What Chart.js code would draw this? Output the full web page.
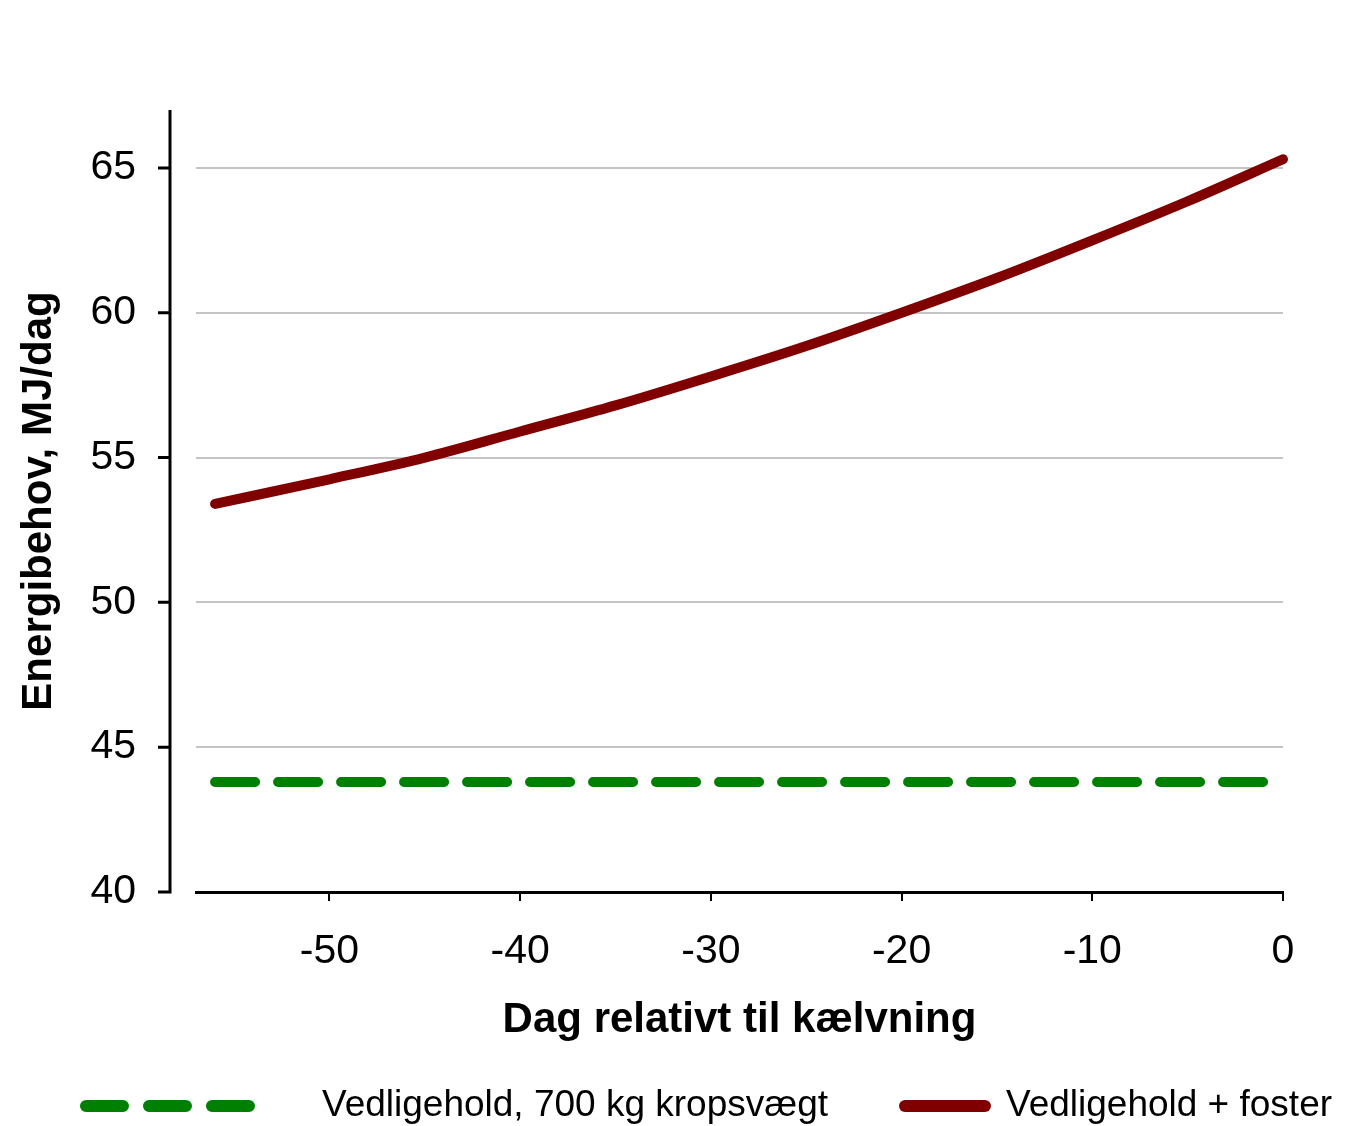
<!DOCTYPE html>
<html>
<head>
<meta charset="utf-8">
<title>Energibehov</title>
<script src="https://cdn.jsdelivr.net/npm/chart.js@4.4.1/dist/chart.umd.min.js"></script>
<style>
  html, body { margin: 0; padding: 0; background: #fff; }
  #wrap { width: 1360px; height: 1126px; position: relative; }
</style>
</head>
<body>
<div id="wrap"><canvas id="energyChart"></canvas></div>
<script>
// data
const fosterDays = [-56, -50, -45, -40, -35, -30, -25, -20, -15, -10, -5, 0];
const fosterValues = [53.4, 54.25, 55.0, 55.9, 56.8, 57.8, 58.85, 60.0, 61.2, 62.5, 63.85, 65.3];
const maintDays = [-56, 0];
const maintValues = [43.8, 43.8];
const yTickValues = [40, 45, 50, 55, 60, 65];
const seriesLabels = ['Vedligehold, 700 kg kropsvægt', 'Vedligehold + foster'];
const xTitle = 'Dag relativt til kælvning';
const yTitle = 'Energibehov, MJ/dag';

const GREEN = '#008000';
const RED = '#800000';
const FONT = '"Liberation Sans", Arial, sans-serif';

// y axis line sits a bit left of the plot, like in Excel
const detachedYAxis = {
    id: 'detachedYAxis',
    afterDraw(chart) {
        const { ctx, chartArea, scales } = chart;
        const y = scales.y;
        const x0 = chartArea.left - 26;
        ctx.save();
        ctx.strokeStyle = '#000';
        ctx.lineWidth = 3;
        ctx.beginPath();
        ctx.moveTo(x0, chartArea.top);
        ctx.lineTo(x0, chartArea.bottom + 1.5);
        y.ticks.forEach(t => {
            const py = y.getPixelForValue(t.value);
            ctx.moveTo(x0 - 12, py);
            ctx.lineTo(x0 + 1.5, py);
        });
        ctx.stroke();
        ctx.restore();
    }
};

// legend at the bottom, Excel style (different sample lengths)
const bottomLegend = {
    id: 'bottomLegend',
    afterDraw(chart) {
        const { ctx } = chart;
        const ly = 1106;
        ctx.save();
        ctx.lineCap = 'round';
        ctx.lineWidth = 12;

        ctx.strokeStyle = GREEN;
        ctx.setLineDash([37, 26]);
        ctx.beginPath();
        ctx.moveTo(86, ly);
        ctx.lineTo(249, ly);
        ctx.stroke();

        ctx.setLineDash([]);
        ctx.strokeStyle = RED;
        ctx.beginPath();
        ctx.moveTo(905, ly);
        ctx.lineTo(985, ly);
        ctx.stroke();

        ctx.fillStyle = '#000';
        ctx.font = '37px ' + FONT;
        ctx.textAlign = 'left';
        ctx.textBaseline = 'middle';
        ctx.fillText(seriesLabels[0], 322, ly);
        ctx.fillText(seriesLabels[1], 1006, ly);
        ctx.restore();
    }
};

const ctx = document.getElementById('energyChart').getContext('2d');
const energyChart = new Chart(ctx, {
    type: 'line',
    data: {
        datasets: [
            {
                label: seriesLabels[0],
                data: maintDays.map((d, i) => ({ x: d, y: maintValues[i] })),
                borderColor: GREEN,
                borderWidth: 10,
                borderDash: [40, 23],
                borderCapStyle: 'round',
                pointRadius: 0,
                clip: false,
                fill: false
            },
            {
                label: seriesLabels[1],
                data: fosterDays.map((d, i) => ({ x: d, y: fosterValues[i] })),
                borderColor: RED,
                borderWidth: 10,
                borderCapStyle: 'round',
                cubicInterpolationMode: 'monotone',
                pointRadius: 0,
                clip: false,
                fill: false
            }
        ]
    },
    options: {
        responsive: true,
        maintainAspectRatio: false,
        animation: false,
        layout: { padding: { top: 110, right: 77, bottom: 66, left: 0 } },
        scales: {
            x: {
                type: 'linear',
                min: -57,
                max: 0,
                afterFit: s => { s.height = 168; },
                afterBuildTicks: s => { s.ticks = s.ticks.filter(t => t.value % 10 === 0); },
                ticks: { stepSize: 10, color: '#000', padding: 26, font: { family: FONT, size: 41 } },
                grid: { drawOnChartArea: false, drawTicks: true, tickLength: 9, color: '#000', lineWidth: 2 },
                border: { display: true, color: '#000', width: 3 },
                title: {
                    display: true, text: xTitle, color: '#000',
                    font: { family: FONT, size: 42, weight: 'bold' },
                    padding: { top: 0, bottom: 14 }
                }
            },
            y: {
                min: 40,
                max: 67,
                afterFit: s => { s.width = 196; },
                afterBuildTicks: s => { s.ticks = yTickValues.map(v => ({ value: v })); },
                ticks: { color: '#000', padding: 60, font: { family: FONT, size: 41 } },
                grid: {
                    drawTicks: false,
                    lineWidth: 2,
                    color: c => (c.tick && c.tick.value === 40) ? 'rgba(0,0,0,0)' : '#c4c4c4'
                },
                border: { display: false },
                title: {
                    display: true, text: yTitle, color: '#000',
                    font: { family: FONT, size: 42, weight: 'bold' },
                    padding: { top: 14, bottom: 0 }
                }
            }
        },
        plugins: {
            legend: { display: false },
            tooltip: { enabled: false }
        }
    },
    plugins: [detachedYAxis, bottomLegend]
});
</script>
</body>
</html>
